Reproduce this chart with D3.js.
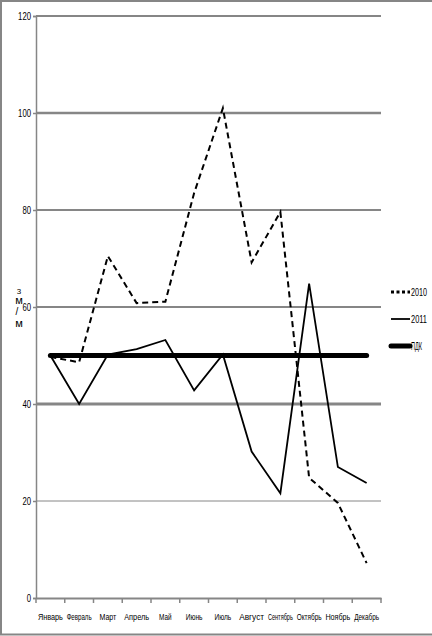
<!DOCTYPE html>
<html lang="ru">
<head>
<meta charset="UTF-8">
<title>Chart</title>
<style>
  body {margin: 0; background: #fff;}
  svg text {font-family: "Liberation Sans", Arial, sans-serif; fill: #000;}
</style>
</head>
<body>
<div id="viz"></div>
<script src="https://d3js.org/d3.v7.min.js"></script>
<script>
var months = ["Январь", "Февраль", "Март", "Апрель", "Май", "Июнь", "Июль", "Август", "Сентябрь", "Октябрь", "Ноябрь", "Декабрь"];
var y2010 = [49.7, 48.6, 70.5, 60.8, 61.1, 83.5, 101, 69.2, 79.6, 24.8, 19.6, 7.2];
var y2011 = [50, 40, 50.2, 51.3, 53.2, 42.8, 50.2, 30.2, 21.6, 64.8, 27, 23.7];
var pdk = [50, 50, 50, 50, 50, 50, 50, 50, 50, 50, 50, 50];
var yTicks = [0, 20, 40, 60, 80, 100, 120];
var seriesNames = ["2010", "2011", "ПДК"];

var width = 432, height = 636;
var svg = d3.select("#viz").append("svg").attr("width", width).attr("height", height);

// outer frame
svg.append("line").attr("x1", 0).attr("x2", width).attr("y1", 1).attr("y2", 1).attr("stroke", "#868686").attr("stroke-width", 2);
svg.append("line").attr("x1", 1).attr("x2", 1).attr("y1", 0).attr("y2", 635).attr("stroke", "#868686").attr("stroke-width", 2);
svg.append("line").attr("x1", 0).attr("x2", width).attr("y1", 634.5).attr("y2", 634.5).attr("stroke", "#868686").attr("stroke-width", 2);

var x = d3.scaleBand().domain(months).range([36, 381]);
var y = d3.scaleLinear().domain([0, 120]).range([598, 16]);

// grid lines (widths vary in the original rendering)
var gridW = {20: 1, 40: 3, 60: 2, 80: 2, 100: 2.5, 120: 2};
svg.append("g").selectAll("line")
  .data(yTicks.filter(function (d) { return d > 0; }))
  .enter().append("line")
  .attr("x1", 36).attr("x2", 381)
  .attr("y1", function (d) { return y(d); })
  .attr("y2", function (d) { return y(d); })
  .attr("stroke", "#868686")
  .attr("stroke-width", function (d) { return gridW[d]; });

// y axis
var yAxis = svg.append("g").attr("transform", "translate(36,0)")
  .call(d3.axisLeft(y).tickValues(yTicks).tickSize(3).tickPadding(2));
yAxis.select(".domain").attr("stroke", "#868686").attr("stroke-width", 1.5);
yAxis.selectAll(".tick line").attr("stroke", "#868686").attr("stroke-width", 1.5);
yAxis.selectAll(".tick text")
  .style("font-size", "10px")
  .attr("textLength", function (d) { return String(d).length * 4.3; })
  .attr("lengthAdjust", "spacingAndGlyphs");

// x axis
var xAxis = svg.append("g").attr("transform", "translate(0,598)")
  .call(d3.axisBottom(x).tickSize(0).tickPadding(15));
xAxis.select(".domain").attr("stroke", "#868686").attr("stroke-width", 2);
xAxis.selectAll(".tick text")
  .style("font-size", "9.5px")
  .attr("textLength", function (d) { return Math.min(d.length * 4.2, 25); })
  .attr("lengthAdjust", "spacingAndGlyphs");
svg.append("g").selectAll("line")
  .data(d3.range(months.length + 1))
  .enter().append("line")
  .attr("x1", function (i) { return 36 + i * x.step(); })
  .attr("x2", function (i) { return 36 + i * x.step(); })
  .attr("y1", 598).attr("y2", 603)
  .attr("stroke", "#868686").attr("stroke-width", 1.5);

// y title (stacked glyphs)
var yt = svg.append("g").attr("class", "ytitle");
yt.append("text").attr("x", 19).attr("y", 294).attr("text-anchor", "middle").style("font-size", "8px").text("3");
yt.append("text").attr("x", 19).attr("y", 304).attr("text-anchor", "middle").style("font-size", "11px").text("м");
yt.append("text").attr("x", 17).attr("y", 315).attr("text-anchor", "middle").style("font-size", "10px").text("/");
yt.append("text").attr("x", 19).attr("y", 327).attr("text-anchor", "middle").style("font-size", "11px").text("м");

var cx = function (d, i) { return x(months[i]) + x.bandwidth() / 2; };
var line = d3.line().x(cx).y(function (d) { return y(d); });

svg.append("path").datum(pdk).attr("d", line)
  .attr("fill", "none").attr("stroke", "#000").attr("stroke-width", 5).attr("stroke-linecap", "round");
svg.append("path").datum(y2011).attr("d", line)
  .attr("fill", "none").attr("stroke", "#000").attr("stroke-width", 1.8);
svg.append("path").datum(y2010).attr("d", line)
  .attr("fill", "none").attr("stroke", "#000").attr("stroke-width", 2).attr("stroke-dasharray", "6,4");

// legend
var styles = [
  {w: 3, dash: "3,2.5", cap: "butt"},
  {w: 1.8, dash: null, cap: "butt"},
  {w: 5, dash: null, cap: "round"}
];
var leg = svg.append("g").selectAll("g").data(seriesNames).enter().append("g")
  .attr("transform", function (d, i) { return "translate(0," + (292 + i * 27) + ")"; });
leg.append("line").attr("x1", 391).attr("x2", 410).attr("y1", 0).attr("y2", 0)
  .attr("stroke", "#000")
  .attr("stroke-width", function (d, i) { return styles[i].w; })
  .attr("stroke-dasharray", function (d, i) { return styles[i].dash; })
  .attr("stroke-linecap", function (d, i) { return styles[i].cap; });
leg.append("text").attr("x", 411).attr("y", 4)
  .style("font-size", "10px")
  .attr("textLength", function (d) { return d.length === 4 ? 16 : 11; })
  .attr("lengthAdjust", "spacingAndGlyphs")
  .text(function (d) { return d; });
</script>
</body>
</html>
